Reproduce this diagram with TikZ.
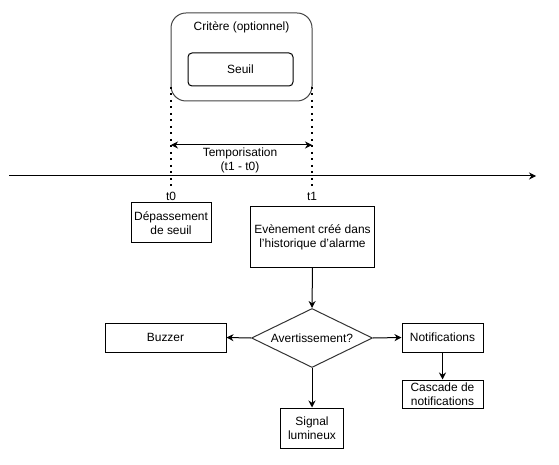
\documentclass[tikz,border=0pt]{standalone}
\usepackage{fontspec}
\setmainfont{Liberation Sans}
\usetikzlibrary{arrows.meta,shapes.geometric}
\definecolor{edgegray}{HTML}{333333}
\definecolor{critgray}{HTML}{444444}
\begin{document}
\begin{tikzpicture}[x=1bp,y=-1bp,
  font=\fontsize{12}{14}\selectfont,
  box/.style={draw=black, line width=1bp, rectangle, align=center, inner sep=0pt},
  arr/.style={draw=black, line width=1bp, -{Stealth[length=7bp,width=7bp]}},
  dotline/.style={draw=black, line width=2bp, dash pattern=on 2bp off 4.5bp},
  txt/.style={inner sep=0pt, align=center}]
\useasboundingbox (0,0) rectangle (559,465);
% Critere box
\node[draw=critgray, line width=1bp, rounded corners=15bp, minimum width=141bp, minimum height=88bp, inner sep=0pt] (crit) at (241.5,57) {};
\node[txt] (critlbl) at (241.5,27) {Critère (optionnel)};
\node[box, rounded corners=4bp, minimum width=105bp, minimum height=33bp] (seuil) at (240.5,69.5) {Seuil};
% dotted lines
\coordinate (d0a) at (171,87);
\coordinate (d0b) at (171,186);
\coordinate (d1a) at (312,87);
\coordinate (d1b) at (312,186);
\draw[dotline] (d0a) -- (d0b);
\draw[dotline] (d1a) -- (d1b);
% temporisation
\coordinate (ta) at (171,145);
\coordinate (tb) at (312,145);
\draw[line width=1bp, {Stealth[length=7bp,width=7bp]}-{Stealth[length=7bp,width=7bp]}] (ta) -- (tb);
\node[txt] (temp) at (240,160) {Temporisation\\(t1 - t0)};
% timeline
\coordinate (tl0) at (9,176);
\coordinate (tl1) at (536,176);
\draw[arr] (tl0) -- (tl1);
\node[txt] (t0) at (171,196) {t0};
\node[txt] (t1) at (312,196) {t1};
% boxes
\node[box, minimum width=80bp, minimum height=40bp] (dep) at (171,223) {Dépassement\\de seuil};
\node[box, minimum width=124bp, minimum height=60bp] (eve) at (312.5,237) {Evènement créé dans\\l'historique d'alarme};
\node[draw=edgegray, line width=1bp, diamond, aspect=2.05, minimum width=121bp, minimum height=59bp, inner sep=0pt] (av) at (312,338) {Avertissement?};
\node[box, minimum width=121bp, minimum height=29bp] (buzzer) at (165.5,337.5) {Buzzer};
\node[box, minimum width=81bp, minimum height=29bp] (notif) at (442.5,337.5) {Notifications};
\node[box, minimum width=81bp, minimum height=28bp] (casc) at (442.5,394) {Cascade de\\notifications};
\node[box, minimum width=63bp, minimum height=40bp] (sig) at (312,428) {Signal\\lumineux};
% connectors
\draw[arr] (eve.south) -- (av.north);
\draw[arr] (av.west) -- (buzzer.east);
\draw[arr] (av.east) -- (notif.west);
\draw[arr] (av.south) -- (sig.north);
\draw[arr] (notif.south) -- (casc.north);
\end{tikzpicture}
\end{document}
